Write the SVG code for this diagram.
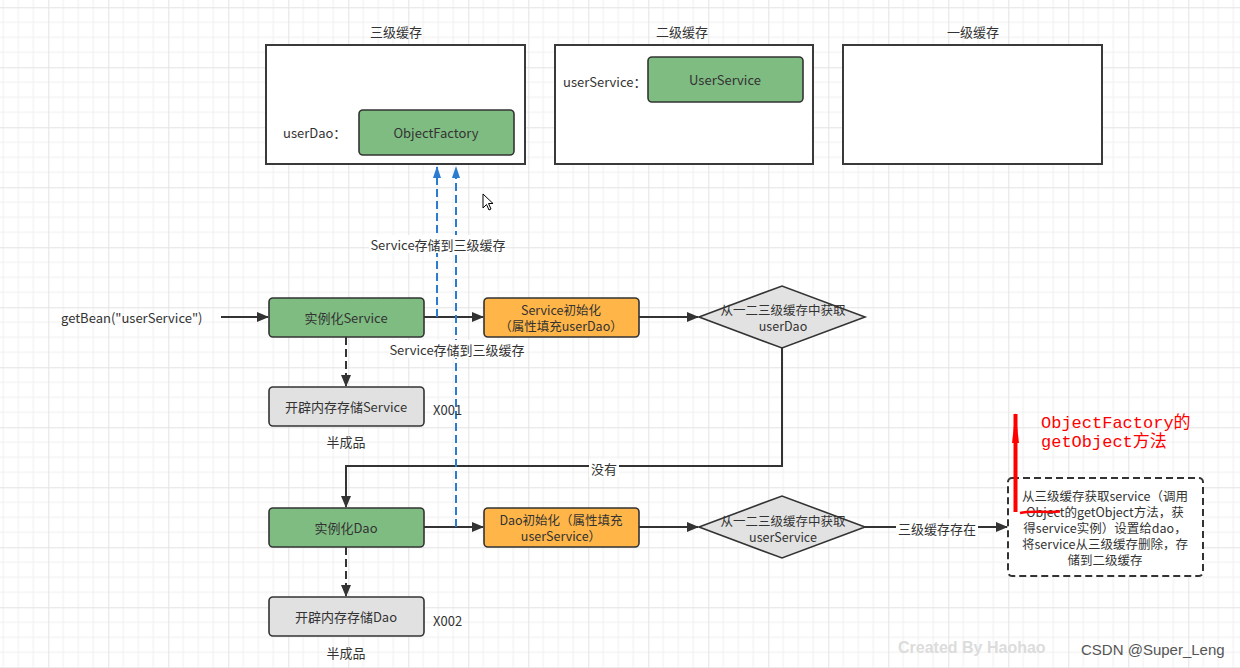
<svg xmlns="http://www.w3.org/2000/svg" width="1240" height="668" viewBox="0 0 1240 668">
<defs>
<pattern id="grid" patternUnits="userSpaceOnUse" x="-11.7" y="7.3" width="60" height="60">
<rect width="60" height="60" fill="#ffffff"/>
<path d="M15,0V60M30,0V60M45,0V60M0,15H60M0,30H60M0,45H60" stroke="#f0f0f0" stroke-width="1" fill="none"/>
<path d="M0.5,0V60M0,0.5H60" stroke="#e3e3e3" stroke-width="1" fill="none"/>
</pattern>
<marker id="ah" viewBox="0 0 12 10" refX="11" refY="5" markerWidth="12" markerHeight="10" markerUnits="userSpaceOnUse" orient="auto">
<path d="M0,0L12,5L0,10Z" fill="#333"/>
</marker>
<marker id="bh" viewBox="0 0 12 8" refX="11" refY="4" markerWidth="12" markerHeight="8" markerUnits="userSpaceOnUse" orient="auto">
<path d="M0,0L12,4L0,8Z" fill="#2b7bd0"/>
</marker>
<marker id="rh" viewBox="0 0 30 10" refX="29" refY="5" markerWidth="30" markerHeight="10" markerUnits="userSpaceOnUse" orient="auto">
<path d="M0,1.5L30,5L0,8.5Z" fill="#ff0000"/>
</marker>
</defs>
<style>
text{font-family:"Microsoft YaHei","Noto Sans CJK SC",sans-serif;font-size:13px;fill:#333;}
.c{text-anchor:middle;dominant-baseline:central;}
.l{dominant-baseline:central;}
.cache{fill:#fff;stroke:#3a3a3a;stroke-width:2;}
.green{fill:#7fbc82;stroke:#333;stroke-width:1.6;}
.orange{fill:#ffb547;stroke:#333;stroke-width:1.6;}
.grey{fill:#e1e1e1;stroke:#333;stroke-width:1.6;}
.ln{fill:none;stroke:#333;stroke-width:2;}
.dash{fill:none;stroke:#333;stroke-width:2;stroke-dasharray:8 4;}
.blue{fill:none;stroke:#2b7bd0;stroke-width:2;stroke-dasharray:8 4;}
.red{font-family:"Liberation Mono","Noto Sans CJK SC",monospace;font-size:17px;fill:#ff0000;}
.two{font-size:12.5px;}
</style>
<rect width="1240" height="668" fill="url(#grid)"/>

<g id="cache3">
<text class="c" x="396" y="31">三级缓存</text>
<rect class="cache" x="266" y="45" width="259" height="119"/>
<text class="l" x="283" y="132">userDao：</text>
</g>
<g id="objectFactory">
<rect class="green" x="359" y="110" width="155" height="45" rx="4"/>
<text class="c" x="436" y="132">ObjectFactory</text>
</g>
<g id="cache2">
<text class="c" x="682" y="31">二级缓存</text>
<rect class="cache" x="555" y="45" width="258" height="119"/>
<text class="l" x="563" y="81">userService：</text>
</g>
<g id="userServiceObj">
<rect class="green" x="648" y="57" width="155" height="45" rx="4"/>
<text class="c" x="725" y="79">UserService</text>
</g>
<g id="cache1">
<text class="c" x="973" y="31">一级缓存</text>
<rect class="cache" x="843" y="45" width="259" height="119"/>
</g>

<g id="connectors">
<line class="ln" x1="221" y1="317" x2="268" y2="317" marker-end="url(#ah)"/>
<line class="ln" x1="424" y1="317" x2="483" y2="317" marker-end="url(#ah)"/>
<line class="ln" x1="639" y1="317" x2="698" y2="317" marker-end="url(#ah)"/>
<line class="dash" x1="346" y1="337" x2="346" y2="386" marker-end="url(#ah)"/>
<path class="ln" d="M782,348V466H346V507" marker-end="url(#ah)"/>
<line class="ln" x1="424" y1="527" x2="483" y2="527" marker-end="url(#ah)"/>
<line class="ln" x1="639" y1="527" x2="698" y2="527" marker-end="url(#ah)"/>
<line class="dash" x1="346" y1="547" x2="346" y2="596" marker-end="url(#ah)"/>
<line class="ln" x1="865" y1="527" x2="1007" y2="527" marker-end="url(#ah)"/>
<line class="blue" x1="437" y1="317" x2="437" y2="167" marker-end="url(#bh)"/>
<line class="blue" x1="456" y1="527" x2="456" y2="167" marker-end="url(#bh)"/>
<rect x="369" y="235" width="137" height="18" fill="#fff"/>
<text class="c" x="438" y="244">Service存储到三级缓存</text>
<rect x="389" y="340" width="137" height="18" fill="#fff"/>
<text class="c" x="457" y="349">Service存储到三级缓存</text>
<rect x="589" y="459" width="30" height="18" fill="#fff"/>
<text class="c" x="604" y="468">没有</text>
<rect x="896" y="519" width="82" height="18" fill="#fff"/>
<text class="c" x="937" y="528">三级缓存存在</text>
</g>

<text class="l" x="61" y="317">getBean("userService")</text>

<g id="instService">
<rect class="green" x="269" y="298" width="155" height="39" rx="4"/>
<text class="c" x="346" y="317">实例化Service</text>
</g>
<g id="initService">
<rect class="orange" x="484" y="298" width="155" height="39" rx="4"/>
<text class="c two" x="561" y="309">Service初始化<tspan x="561" dy="16">（属性填充userDao）</tspan></text>
</g>
<g id="getUserDao">
<path d="M699,317L782,286L865,317L782,348Z" fill="#e2e2e2" stroke="#333" stroke-width="1.6"/>
<text class="c two" x="783" y="309">从一二三级缓存中获取<tspan x="783" dy="16">userDao</tspan></text>
</g>
<g id="memService">
<rect class="grey" x="269" y="387" width="155" height="39" rx="4"/>
<text class="c" x="346" y="406">开辟内存存储Service</text>
<text class="l" x="433" y="409">X001</text>
<text class="c" x="346" y="441">半成品</text>
</g>
<g id="instDao">
<rect class="green" x="269" y="508" width="155" height="39" rx="4"/>
<text class="c" x="346" y="527">实例化Dao</text>
</g>
<g id="initDao">
<rect class="orange" x="484" y="508" width="155" height="39" rx="4"/>
<text class="c two" x="561" y="519">Dao初始化（属性填充<tspan x="561" dy="16">userService）</tspan></text>
</g>
<g id="getUserService">
<path d="M699,527L782,496L865,527L782,558Z" fill="#e2e2e2" stroke="#333" stroke-width="1.6"/>
<text class="c two" x="783" y="520">从一二三级缓存中获取<tspan x="783" dy="16">userService</tspan></text>
</g>
<g id="memDao">
<rect class="grey" x="269" y="597" width="155" height="39" rx="4"/>
<text class="c" x="346" y="616">开辟内存存储Dao</text>
<text class="l" x="433" y="620">X002</text>
<text class="c" x="346" y="652">半成品</text>
</g>
<g id="note">
<rect x="1008" y="478" width="195" height="98" rx="4" fill="#fff" stroke="#333" stroke-width="2" stroke-dasharray="7 4"/>
<text class="c" x="1105" y="495" style="font-size:12.5px">从三级缓存获取service（调用<tspan x="1105" dy="16">Object的getObject方法，获</tspan><tspan x="1105" dy="16">得service实例）设置给dao，</tspan><tspan x="1105" dy="16">将service从三级缓存删除，存</tspan><tspan x="1105" dy="16">储到二级缓存</tspan></text>
</g>
<g id="annotation">
<line x1="1015.5" y1="512" x2="1015.5" y2="414" stroke="#ff0000" stroke-width="4" marker-end="url(#rh)"/>
<path d="M1020,513C1032,510 1046,513 1060,511.5" fill="none" stroke="#ff0000" stroke-width="2.5"/>
<text class="red" x="1041" y="428">ObjectFactory的<tspan x="1041" dy="19">getObject方法</tspan></text>
</g>
<path d="M483,194L483,208L486.5,204.5L489,210L491,209L488.5,203.5L493,203.5Z" fill="#fff" stroke="#000" stroke-width="1"/>
<text x="898" y="653" style="font-family:'Liberation Sans',sans-serif;font-size:16px;font-weight:bold;fill:#dcdcdc">Created By Haohao</text>
<text x="1081" y="655" style="font-family:'Liberation Sans',sans-serif;font-size:15px;fill:#555">CSDN @Super_Leng</text>
</svg>
